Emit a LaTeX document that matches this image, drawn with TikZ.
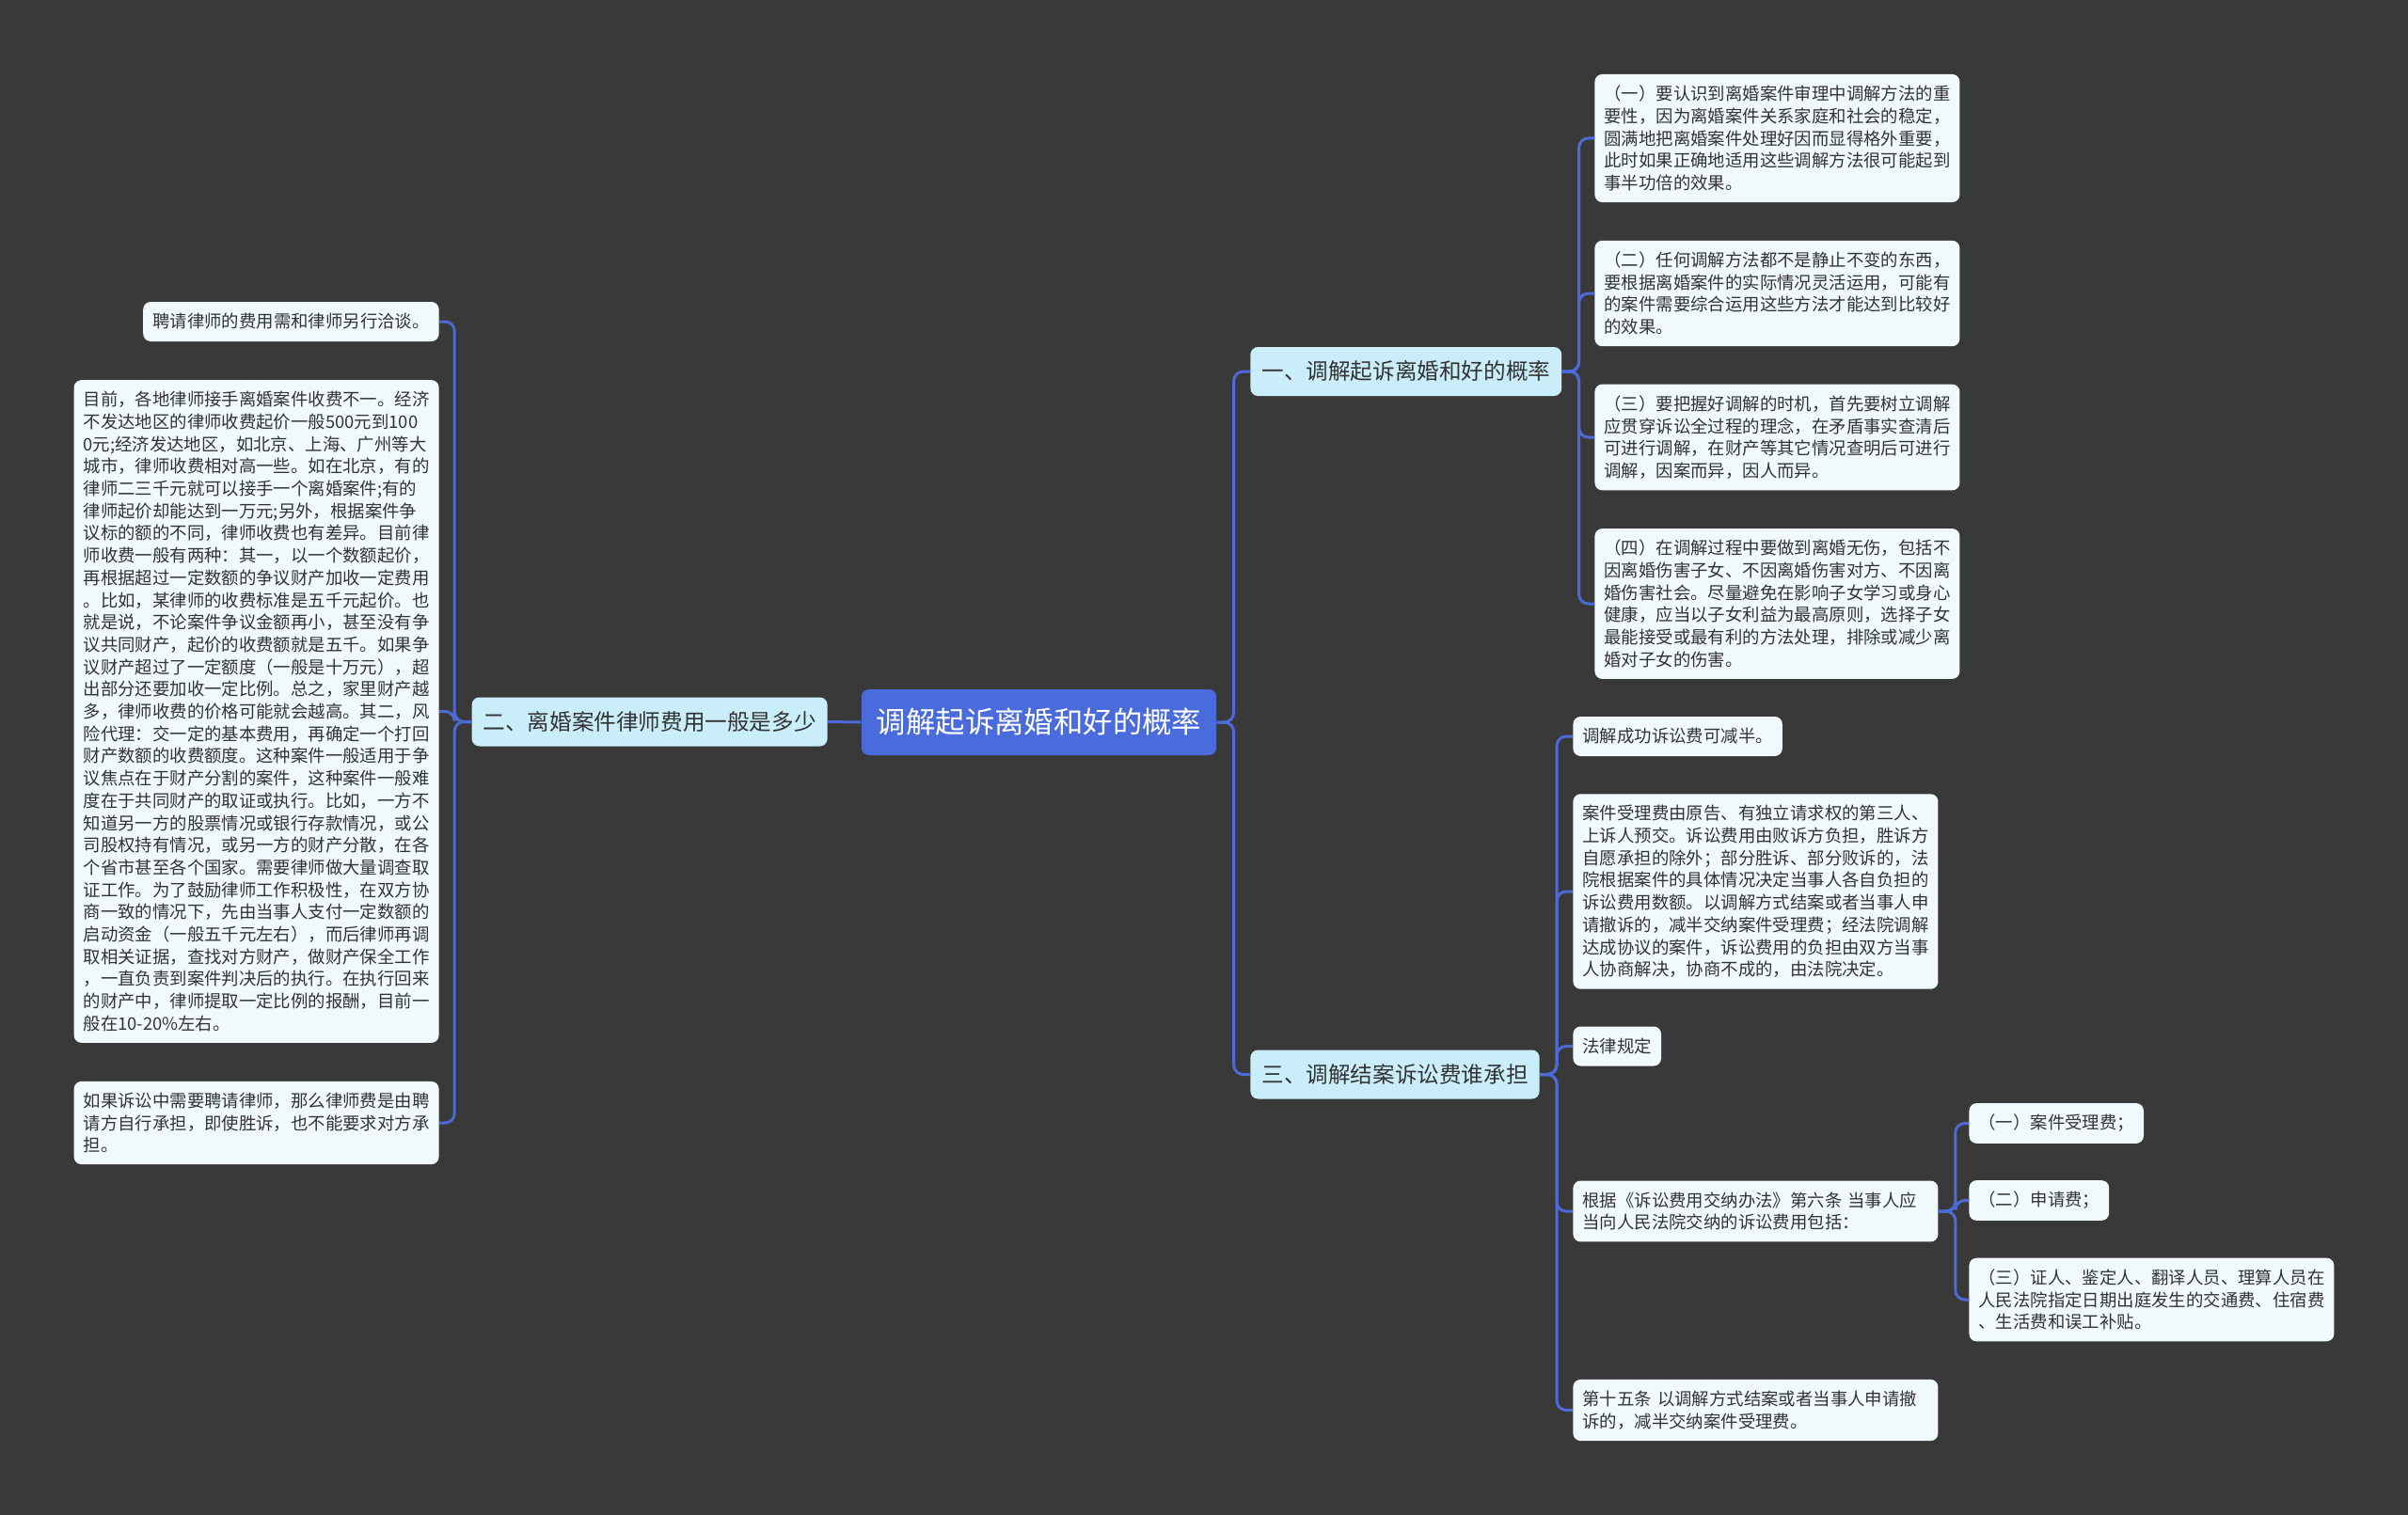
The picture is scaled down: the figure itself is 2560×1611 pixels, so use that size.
\documentclass[tikz,border=0pt]{standalone}
\usepackage{fontspec}
\setmainfont{Noto Sans CJK SC}

\definecolor{bgdark}{HTML}{393939}
\definecolor{rootblue}{HTML}{4A6BDC}
\definecolor{branchblue}{HTML}{C9EEF9}
\definecolor{leafcyan}{HTML}{F0FAFD}
\definecolor{linkblue}{HTML}{4D6AD8}

\begin{document}
\begin{tikzpicture}[x=0.5pt, y=-0.5pt,
  rootbox/.style={fill=rootblue, text=white, rounded corners=4pt, inner xsep=8pt,
    minimum height=35pt, font=\fontsize{15.7pt}{19pt}\selectfont},
  branchbox/.style={fill=branchblue, text=black!80, rounded corners=4pt, inner xsep=6pt,
    minimum height=26pt, font=\fontsize{11.8pt}{14pt}\selectfont},
  leafbox/.style={fill=leafcyan, text=black!80, rounded corners=4pt, inner xsep=5pt,
    inner ysep=6pt, minimum height=21pt, align=left, font=\fontsize{9.2pt}{11.85pt}\selectfont},
  widebox/.style={leafbox, text width=184pt},
  link/.style={draw=linkblue, line width=1.5pt, rounded corners=5pt}]

  % background, also fixes the margins
  \fill[bgdark] (0,0) rectangle (2560,1611);

  % centre topic
  \node[rootbox] (root) at (1104.5,768) {调解起诉离婚和好的概率};

  % main branches
  \node[branchbox, anchor=west] (b1) at (1329,395) {一、调解起诉离婚和好的概率};
  \node[branchbox, anchor=east] (b2) at (880,767.5) {二、离婚案件律师费用一般是多少};
  \node[branchbox, anchor=west] (b3) at (1329,1142.5) {三、调解结案诉讼费谁承担};

  % leaves of branch one
  \node[widebox, anchor=west] (b1a) at (1695,147) {（一）要认识到离婚案件审理中调解方法的重\\
要性，因为离婚案件关系家庭和社会的稳定，\\
圆满地把离婚案件处理好因而显得格外重要，\\
此时如果正确地适用这些调解方法很可能起到\\
事半功倍的效果。};
  \node[widebox, anchor=west] (b1b) at (1695,312) {（二）任何调解方法都不是静止不变的东西，\\
要根据离婚案件的实际情况灵活运用，可能有\\
的案件需要综合运用这些方法才能达到比较好\\
的效果。};
  \node[widebox, anchor=west] (b1c) at (1695,465) {（三）要把握好调解的时机，首先要树立调解\\
应贯穿诉讼全过程的理念，在矛盾事实查清后\\
可进行调解，在财产等其它情况查明后可进行\\
调解，因案而异，因人而异。};
  \node[widebox, anchor=west] (b1d) at (1695,642) {（四）在调解过程中要做到离婚无伤，包括不\\
因离婚伤害子女、不因离婚伤害对方、不因离\\
婚伤害社会。尽量避免在影响子女学习或身心\\
健康，应当以子女利益为最高原则，选择子女\\
最能接受或最有利的方法处理，排除或减少离\\
婚对子女的伤害。};

  % leaves of branch two
  \node[leafbox, anchor=east] (b2a) at (467,342) {聘请律师的费用需和律师另行洽谈。};
  \node[widebox, anchor=east] (b2b) at (467,756.5) {目前，各地律师接手离婚案件收费不一。经济\\
不发达地区的律师收费起价一般500元到100\\
0元;经济发达地区，如北京、上海、广州等大\\
城市，律师收费相对高一些。如在北京，有的\\
律师二三千元就可以接手一个离婚案件;有的\\
律师起价却能达到一万元;另外，根据案件争\\
议标的额的不同，律师收费也有差异。目前律\\
师收费一般有两种：其一，以一个数额起价，\\
再根据超过一定数额的争议财产加收一定费用\\
。比如，某律师的收费标准是五千元起价。也\\
就是说，不论案件争议金额再小，甚至没有争\\
议共同财产，起价的收费额就是五千。如果争\\
议财产超过了一定额度（一般是十万元），超\\
出部分还要加收一定比例。总之，家里财产越\\
多，律师收费的价格可能就会越高。其二，风\\
险代理：交一定的基本费用，再确定一个打回\\
财产数额的收费额度。这种案件一般适用于争\\
议焦点在于财产分割的案件，这种案件一般难\\
度在于共同财产的取证或执行。比如，一方不\\
知道另一方的股票情况或银行存款情况，或公\\
司股权持有情况，或另一方的财产分散，在各\\
个省市甚至各个国家。需要律师做大量调查取\\
证工作。为了鼓励律师工作积极性，在双方协\\
商一致的情况下，先由当事人支付一定数额的\\
启动资金（一般五千元左右），而后律师再调\\
取相关证据，查找对方财产，做财产保全工作\\
，一直负责到案件判决后的执行。在执行回来\\
的财产中，律师提取一定比例的报酬，目前一\\
般在10-20\%左右。};
  \node[widebox, anchor=east] (b2c) at (467,1194) {如果诉讼中需要聘请律师，那么律师费是由聘\\
请方自行承担，即使胜诉，也不能要求对方承\\
担。};

  % leaves of branch three
  \node[leafbox, anchor=west] (b3a) at (1672,783) {调解成功诉讼费可减半。};
  \node[widebox, anchor=west] (b3b) at (1672,948) {案件受理费由原告、有独立请求权的第三人、\\
上诉人预交。诉讼费用由败诉方负担，胜诉方\\
自愿承担的除外；部分胜诉、部分败诉的，法\\
院根据案件的具体情况决定当事人各自负担的\\
诉讼费用数额。以调解方式结案或者当事人申\\
请撤诉的，减半交纳案件受理费；经法院调解\\
达成协议的案件，诉讼费用的负担由双方当事\\
人协商解决，协商不成的，由法院决定。};
  \node[leafbox, anchor=west] (b3c) at (1672,1112.5) {法律规定};
  \node[widebox, anchor=west] (b3d) at (1672,1288) {根据《诉讼费用交纳办法》第六条 当事人应\\
当向人民法院交纳的诉讼费用包括：};
  \node[widebox, anchor=west] (b3e) at (1672,1499.5) {第十五条 以调解方式结案或者当事人申请撤\\
诉的，减半交纳案件受理费。};

  % fee items
  \node[leafbox, anchor=west] (fee1) at (2093,1194.5) {（一）案件受理费；};
  \node[leafbox, anchor=west] (fee2) at (2093,1276.5) {（二）申请费；};
  \node[widebox, anchor=west] (fee3) at (2093,1382) {（三）证人、鉴定人、翻译人员、理算人员在\\
人民法院指定日期出庭发生的交通费、住宿费\\
、生活费和误工补贴。};

  % connectors
  \draw[link] (root.west) -- (b2.east);
  \foreach \br in {b1,b3}
    \draw[link] (root.east) -- ++(9pt,0) |- (\br.west);
  \foreach \lf in {b1a,b1b,b1c,b1d}
    \draw[link] (b1.east) -- ++(9pt,0) |- (\lf.west);
  \foreach \lf in {b2a,b2b,b2c}
    \draw[link] (b2.west) -- ++(-9pt,0) |- (\lf.east);
  \foreach \lf in {b3a,b3b,b3c,b3d,b3e}
    \draw[link] (b3.east) -- ++(9pt,0) |- (\lf.west);
  \foreach \lf in {fee1,fee2,fee3}
    \draw[link] (b3d.east) -- ++(9pt,0) |- (\lf.west);

\end{tikzpicture}
\end{document}
